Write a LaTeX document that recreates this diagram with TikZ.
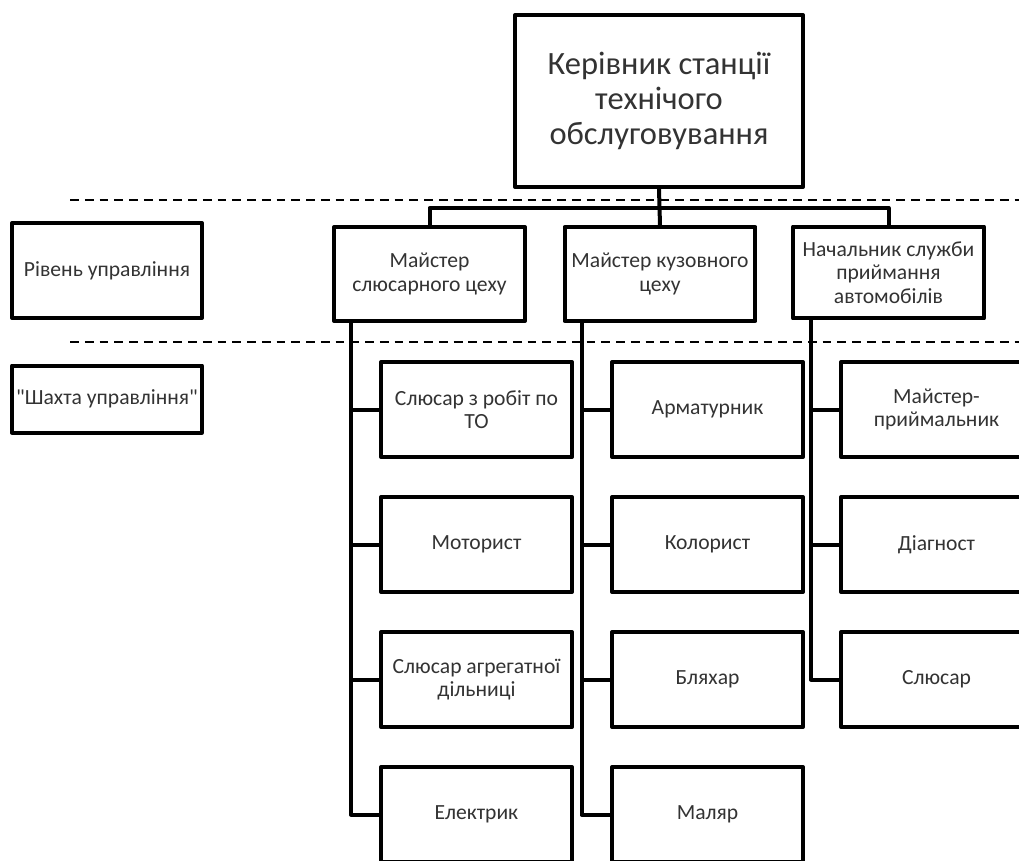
\documentclass[tikz,border=0pt]{standalone}
\usepackage{fontspec}
\setmainfont{Carlito}[Ligatures=TeXOff]
\usetikzlibrary{positioning}
\tikzset{box/.style = {draw, line width=0.08cm, line join=round, fill=white, align=center,
    text=black!80, font=\fontsize{12.3}{13.5}\selectfont, inner sep=1pt,
    minimum width=3.82cm, minimum height=1.9cm}}
\tikzset{link/.style = {line width=0.08cm, line join=round}}
\tikzset{sep/.style = {line width=0.8pt, dash pattern=on 5pt off 3.4pt}}

\begin{document}
\begin{tikzpicture}[x=0.02cm, y=-0.02cm]
\useasboundingbox (0,0) rectangle (1019,860);
\clip (0,0) rectangle (1019,860);
% level separators
\coordinate (s1l) at (70,200);
\coordinate (s1r) at (1019,200);
\coordinate (s2l) at (70,342);
\coordinate (s2r) at (1019,342);
\draw [sep] (s1l) -- (s1r);
\draw [sep] (s2l) -- (s2r);
% head
\node [box, minimum width=5.76cm, minimum height=3.44cm, font=\fontsize{18.5}{19.8}\selectfont] (head) at (659,101) {Керівник станції\\технічого\\обслуговування};
% masters
\node [box, minimum height=1.88cm] (mA) at (429.5,274) {Майстер\\слюсарного цеху};
\node [box, minimum height=1.88cm] (mB) at (660,274) {Майстер кузовного\\цеху};
\node [box, minimum height=1.84cm] (mC) at (888.5,272.5) {Начальник служби\\приймання\\автомобілів};
% side labels
\node [box, minimum width=3.8cm] (lvl) at (107,270.5) {Рівень управління};
\node [box, minimum width=3.8cm, minimum height=1.34cm] (shaft) at (107,399) {"Шахта управління"};
% workers
\node [box] (a1) at (476.5,409.5) {Слюсар з робіт по\\ТО};
\node [box] (a2) at (476.5,544.5) {Моторист};
\node [box] (a3) at (476.5,679.5) {Слюсар агрегатної\\дільниці};
\node [box] (a4) at (476.5,814.5) {Електрик};
\node [box] (b1) at (707.5,409.5) {Арматурник};
\node [box] (b2) at (707.5,544.5) {Колорист};
\node [box] (b3) at (707.5,679.5) {Бляхар};
\node [box] (b4) at (707.5,814.5) {Маляр};
\node [box] (c1) at (936.5,409.5) {Майстер-\\приймальник};
\node [box] (c2) at (936.5,544.5) {Діагност};
\node [box] (c3) at (936.5,679.5) {Слюсар};
% bus
\draw [link] (head.south) -- (mB.north);
\coordinate (bus) at (659,208);
\draw [link] (mA.north) |- (bus) -| (mC.north);
% trunks
\coordinate (tA) at ([xshift=0.38cm]mA.south west);
\coordinate (tB) at ([xshift=0.38cm]mB.south west);
\coordinate (tC) at ([xshift=0.40cm]mC.south west);
\draw [link] (tA) |- (a4.west);
\draw [link] (tB) |- (b4.west);
\draw [link] (tC) |- (c3.west);
\foreach \n in {a1,a2,a3} \draw [link] (tA |- \n.west) -- (\n.west);
\foreach \n in {b1,b2,b3} \draw [link] (tB |- \n.west) -- (\n.west);
\foreach \n in {c1,c2} \draw [link] (tC |- \n.west) -- (\n.west);
\end{tikzpicture}
\end{document}
